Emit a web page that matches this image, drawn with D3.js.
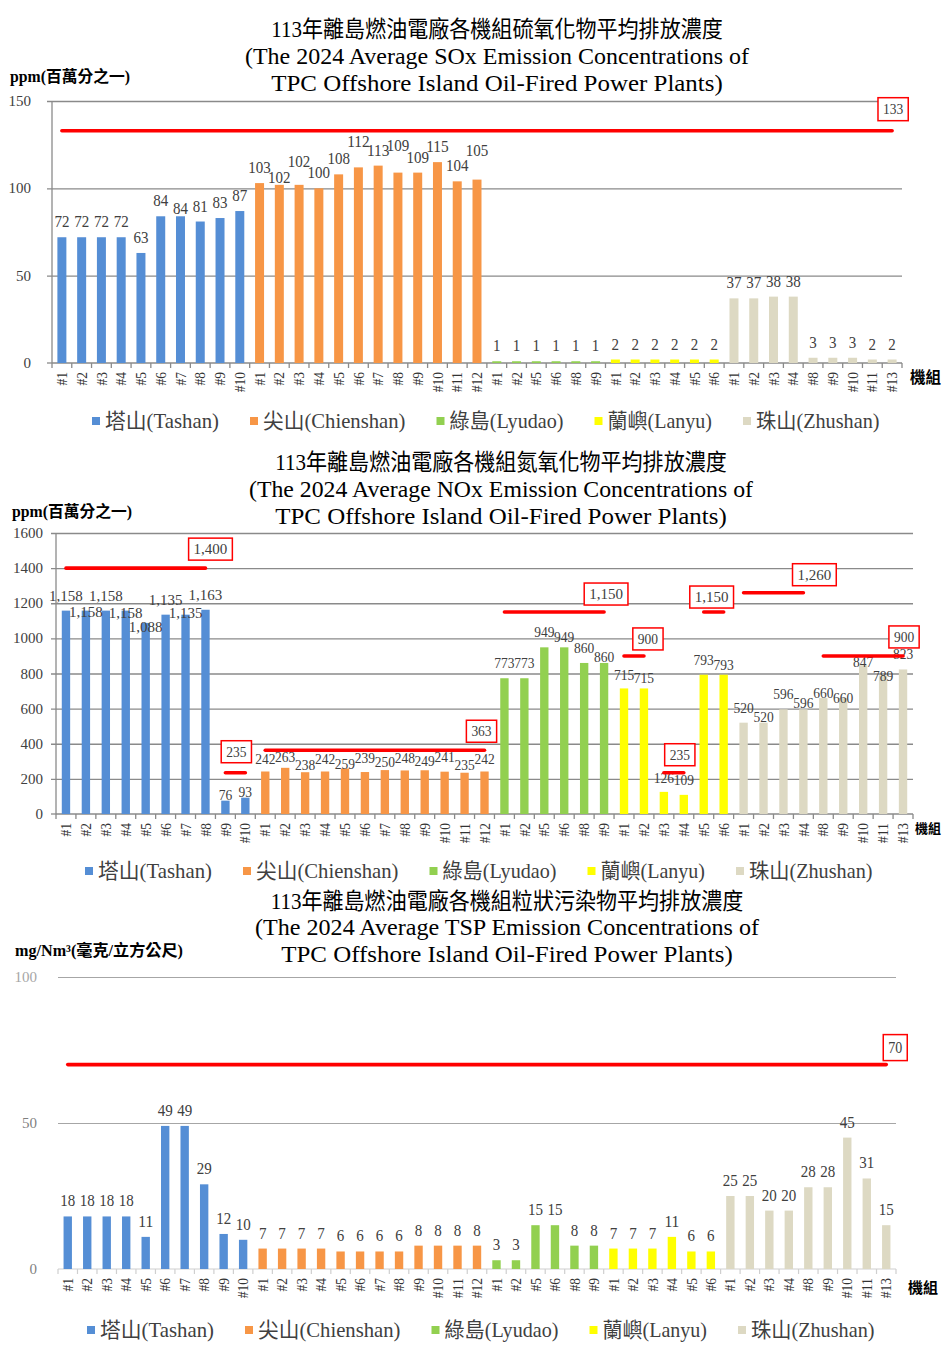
<!DOCTYPE html>
<html><head><meta charset="utf-8">
<script src="https://cdn.jsdelivr.net/npm/d3@7"></script>
<style>body{margin:0;background:#fff}svg{display:block}</style>
</head><body>
<svg id="c" width="948" height="1357"></svg>
<script>
// ---------- DATA ----------
const plantNames = ["塔山(Tashan)", "尖山(Chienshan)", "綠島(Lyudao)", "蘭嶼(Lanyu)", "珠山(Zhushan)"];
const unitsTashan = ["#1","#2","#3","#4","#5","#6","#7","#8","#9","#10"];
const unitsChienshan = ["#1","#2","#3","#4","#5","#6","#7","#8","#9","#10","#11","#12"];
const unitsLyudao = ["#1","#2","#5","#6","#8","#9"];
const unitsLanyu = ["#1","#2","#3","#4","#5","#6"];
const unitsZhushan = ["#1","#2","#3","#4","#8","#9","#10","#11","#13"];

const soxTashan = [72,72,72,72,63,84,84,81,83,87];
const soxChienshan = [103,102,102,100,108,112,113,109,109,115,104,105];
const soxLyudao = [1,1,1,1,1,1];
const soxLanyu = [2,2,2,2,2,2];
const soxZhushan = [37,37,38,38,3,3,3,2,2];
const soxStdValues = [133];

const noxTashan = [1158,1158,1158,1158,1088,1135,1135,1163,76,93];
const noxChienshan = [242,263,238,242,259,239,250,248,249,241,235,242];
const noxLyudao = [773,773,949,949,860,860];
const noxLanyu = [715,715,126,109,793,793];
const noxZhushan = [520,520,596,596,660,660,847,789,823];
const noxStdValues = [1400,235,363,1150,900,235,1150,1260,900];

const tspTashan = [18,18,18,18,11,49,49,29,12,10];
const tspChienshan = [7,7,7,7,6,6,6,6,8,8,8,8];
const tspLyudao = [3,3,15,15,8,8];
const tspLanyu = [7,7,7,11,6,6];
const tspZhushan = [25,25,20,20,28,28,45,31,15];
const tspStdValues = [70];

const soxTicks = [0,50,100,150];
const noxTicks = [0,200,400,600,800,1000,1200,1400,1600];
const tspTicks = [0,50,100];

// which units each standard covers [first, last] (plant index, unit index)
const soxStdSpan = [[[0,0],[4,8]]];
const noxStdSpan = [[[0,0],[0,7]],[[0,8],[0,9]],[[1,0],[1,11]],[[2,0],[2,5]],[[3,0],[3,1]],[[3,2],[3,3]],[[3,4],[3,5]],[[4,0],[4,3]],[[4,4],[4,8]]];
const tspStdSpan = [[[0,0],[4,8]]];

// ---------- STYLE ----------
const plantColors = ["#558ED5","#F79646","#92D050","#FFFF00","#DDD9C3"];
const FONT = "'Liberation Serif','Noto Sans CJK TC',serif";
const svg = d3.select("#c");

function mw(str){let w=0;for(const ch of str){w+=ch.codePointAt(0)>0x2E7F?1:0.5;}return w;}
function mtext(g,str,x,y,s,o={}){
  const W=mw(str)*s, a=o.anchor||"start";
  const sx=a==="middle"?x-W/2:a==="end"?x-W:x;
  const t=g.append("text").attr("x",sx).attr("y",y)
    .attr("font-family",FONT).attr("font-size",s*(o.k||1.1))
    .attr("textLength",W).attr("lengthAdjust","spacingAndGlyphs")
    .attr("fill",o.fill||"#000").text(str);
  if(o.bold) t.attr("font-weight","bold");
  return t;
}

const unitLists=[unitsTashan,unitsChienshan,unitsLyudao,unitsLanyu,unitsZhushan];

function drawChart(cfg){
  const g=svg.append("g");
  const rows=[];
  cfg.series.forEach((vals,p)=>vals.forEach((v,u)=>rows.push({p,u,v,label:unitLists[p][u]})));
  const n=rows.length;
  const idx=(pu)=>{let k=0;for(let p=0;p<pu[0];p++)k+=cfg.series[p].length;return k+pu[1];};
  const x=d3.scaleBand().domain(d3.range(n)).range([cfg.x0,cfg.x1]).paddingInner(cfg.pad).paddingOuter(cfg.pad/2);
  const y=d3.scaleLinear().domain([0,cfg.yMax]).range([cfg.yBase,cfg.yTop]);
  const bw=x.bandwidth(), cx=i=>x(i)+bw/2;

  // titles
  cfg.titles.forEach((t,i)=>mtext(g,t,cfg.titleX,cfg.titleY[i],21,{anchor:"middle"}));
  mtext(g,cfg.unit,cfg.unitX,cfg.unitY,cfg.unitS,{bold:true,k:1.0});

  // grid via axis
  const ax=g.append("g").attr("transform",`translate(${cfg.x0},0)`)
    .call(d3.axisLeft(y).tickValues(cfg.ticks.filter(v=>v>0)).tickSize(-(cfg.x1-cfg.x0)).tickFormat(""));
  ax.select(".domain").remove();
  ax.selectAll(".tick line").attr("stroke",cfg.gridColor).attr("stroke-width",cfg.gridW).attr("x1",cfg.yAxisLine?-5:0);
  cfg.ticks.forEach(v=>mtext(g,String(v),cfg.yLabX,y(v)+5,15,{anchor:"end",k:0.98,fill:(cfg.yLabFill&&v===cfg.yMax)?cfg.yLabFill:cfg.yLabColor}));
  if(cfg.yAxisLine){
    g.append("line").attr("x1",cfg.x0).attr("x2",cfg.x0).attr("y1",cfg.yTop).attr("y2",cfg.yBase).attr("stroke",cfg.gridColor).attr("stroke-width",cfg.gridW);
    g.append("line").attr("x1",cfg.x0-5).attr("x2",cfg.x0).attr("y1",cfg.yBase).attr("y2",cfg.yBase).attr("stroke",cfg.gridColor).attr("stroke-width",cfg.gridW);
  }
  // x axis
  g.append("line").attr("x1",cfg.x0).attr("x2",cfg.x1).attr("y1",cfg.yBase).attr("y2",cfg.yBase).attr("stroke",cfg.axisColor).attr("stroke-width",cfg.gridW);
  d3.range(n+1).forEach(i=>{
    const xx=cfg.x0+i*x.step();
    g.append("line").attr("x1",xx).attr("x2",xx).attr("y1",cfg.yBase).attr("y2",cfg.yBase+5).attr("stroke",cfg.axisColor).attr("stroke-width",cfg.gridW);
  });
  rows.forEach((r,i)=>{
    const tg=g.append("g").attr("transform",`translate(${cx(i)},${cfg.yBase+9}) rotate(-90)`);
    mtext(tg,r.label,0,13.5*0.38,13.5,{anchor:"end",fill:"#333"});
  });

  // bars
  g.append("g").selectAll("rect").data(rows).join("rect")
    .attr("x",(d,i)=>x(i)).attr("width",bw)
    .attr("y",d=>y(d.v)).attr("height",d=>cfg.yBase-y(d.v))
    .attr("fill",d=>plantColors[d.p]);
  // labels
  rows.forEach((r,i)=>{
    const nud=cfg.nudge?cfg.nudge[i]:0;
    mtext(g,cfg.fmt(r.v),cx(i),y(r.v)-10+nud,cfg.labS,{anchor:"middle",k:1.1,fill:"#404040"});
  });

  // standards
  cfg.std.forEach((v,k)=>{
    const a=idx(cfg.stdSpan[k][0]), b=idx(cfg.stdSpan[k][1]);
    const yy=y(v);
    g.append("line").attr("x1",cx(a)).attr("x2",cx(b)).attr("y1",yy).attr("y2",yy)
      .attr("stroke","#FF0000").attr("stroke-width",3.6).attr("stroke-linecap","round");
    const s=cfg.boxS, str=d3.format(",")(v), W=mw(str)*s;
    const bcx=cx(b)+cfg.boxDx[k], bb=yy-cfg.boxGap[k], bh=cfg.boxH;
    g.append("rect").attr("x",bcx-(W+10)/2).attr("y",bb-bh).attr("width",W+10).attr("height",bh)
      .attr("fill","#fff").attr("stroke","#FF0000").attr("stroke-width",1.5);
    mtext(g,str,bcx,bb-bh/2+5,s,{anchor:"middle",k:1.15,fill:"#404040"});
  });

  // axis-end label
  mtext(g,"機組",cfg.kX,cfg.kY,cfg.kS,{bold:true,k:1.0});

  // legend
  let lx=cfg.legX;
  plantNames.forEach((nm,p)=>{
    g.append("rect").attr("x",lx).attr("y",cfg.legY-11).attr("width",8).attr("height",8).attr("fill",plantColors[p]);
    mtext(g,nm,lx+13,cfg.legY,19,{fill:"#404040"});
    lx+=13+mw(nm)*19+31;
  });
}

drawChart({
  series:[soxTashan,soxChienshan,soxLyudao,soxLanyu,soxZhushan],
  titles:["113年離島燃油電廠各機組硫氧化物平均排放濃度","(The 2024 Average SOx Emission Concentrations of","TPC Offshore Island Oil-Fired Power Plants)"],
  titleX:497,titleY:[37,64,91],
  unit:"ppm(百萬分之一)",unitX:10,unitY:82,unitS:16,
  x0:52,x1:902,yBase:363,yTop:101,yMax:150,ticks:soxTicks,pad:0.545,
  gridColor:"#8a8a8a",axisColor:"#8a8a8a",gridW:1.3,yAxisLine:true,yLabX:31,yLabColor:"#404040",
  fmt:d3.format(","),labS:15,
  nudge:[0,0,0,0,0,0,8,0,0,0, 0,8,-8,0,0,-10,0,-12,0,0,0,-14, 0,0,0,0,0,0, 0,0,0,0,0,0, 0,0,0,0,0,0,0,0,0],
  std:soxStdValues,stdSpan:soxStdSpan,boxS:13.5,boxH:23,boxDx:[1],boxGap:[10],
  kX:910,kY:383,kS:15.5,legX:92,legY:428
});
drawChart({
  series:[noxTashan,noxChienshan,noxLyudao,noxLanyu,noxZhushan],
  titles:["113年離島燃油電廠各機組氮氧化物平均排放濃度","(The 2024 Average NOx Emission Concentrations of","TPC Offshore Island Oil-Fired Power Plants)"],
  titleX:501,titleY:[470,497,524],
  unit:"ppm(百萬分之一)",unitX:12,unitY:517,unitS:16,
  x0:56,x1:913,yBase:814,yTop:533,yMax:1600,ticks:noxTicks,pad:0.58,
  gridColor:"#8a8a8a",axisColor:"#8a8a8a",gridW:1.3,yAxisLine:true,yLabX:43,yLabColor:"#404040",
  fmt:d3.format(","),labS:13.5,
  nudge:[0,16,0,17,19,0,13,0,9,9, 3,4,8,3,10,1,7,3,6,0,7,3, 0,0,0,5,0,9, 2,5,1,0,0,5, 0,9,0,9,10,15,12,16,0],
  std:noxStdValues,stdSpan:noxStdSpan,boxS:13.5,boxH:22,
  boxDx:[5,-9,-3,2,4,-4,-12,11,1],boxGap:[8,10,8,7,6,7,4,7,8],
  kX:915,kY:833,kS:13,legX:85,legY:878
});
drawChart({
  series:[tspTashan,tspChienshan,tspLyudao,tspLanyu,tspZhushan],
  titles:["113年離島燃油電廠各機組粒狀污染物平均排放濃度","(The 2024 Average TSP Emission Concentrations of","TPC Offshore Island Oil-Fired Power Plants)"],
  titleX:507,titleY:[909,935,962],
  unit:"mg/Nm³(毫克/立方公尺)",unitX:15,unitY:956,unitS:16,
  x0:58,x1:896,yBase:1269,yTop:977,yMax:100,ticks:tspTicks,pad:0.57,
  gridColor:"#a6a6a6",axisColor:"#cfcfcf",gridW:1.2,yAxisLine:false,yLabX:37,yLabColor:"#7f7f7f",yLabFill:"#a6a6a6",
  fmt:d3.format(","),labS:15,
  nudge:null,
  std:tspStdValues,stdSpan:tspStdSpan,boxS:14,boxH:26,boxDx:[9],boxGap:[4],
  kX:908,kY:1293,kS:15,legX:87,legY:1337
});
</script></body></html>
